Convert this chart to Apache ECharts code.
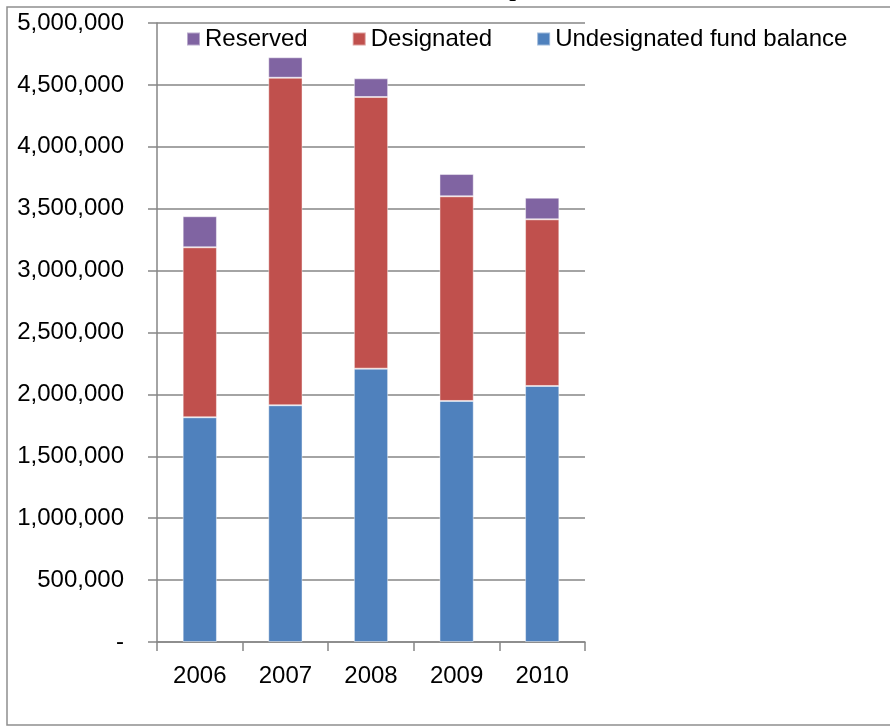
<!DOCTYPE html>
<html>
<head>
<meta charset="utf-8">
<script src="https://cdn.jsdelivr.net/npm/echarts@6/dist/echarts.min.js"></script>
<style>
  html, body { margin: 0; padding: 0; background: #ffffff; }
  #chart { width: 890px; height: 727px; }
</style>
</head>
<body>
<div id="chart"></div>
<script>
// Fund balance components by fiscal year
const years = ['2006', '2007', '2008', '2009', '2010'];
const undesignated = [1815000, 1912000, 2208000, 1947000, 2068000];
const designated = [1373000, 2646000, 2194000, 1653000, 1346000];
const reserved = [251000, 165000, 151000, 180000, 175000];

const yTicks = { min: 0, max: 5000000, interval: 500000 };
const titleText = 'Fund Balance Comparison';

const FONT = '"Liberation Sans", Arial, sans-serif';
const GRID_GRAY = '#868686';

function fmtNumber(v) {
  if (v === 0) return '-';
  return String(v).replace(/\B(?=(\d{3})+(?!\d))/g, ',');
}

const chart = echarts.init(document.getElementById('chart'), null, { renderer: 'canvas' });

const barStyle = (color) => ({
  color: color,
  borderColor: 'rgba(255,255,255,0.45)',
  borderWidth: 1
});

chart.setOption({
  backgroundColor: '#ffffff',
  animation: false,
  graphic: [
    {
      type: 'rect',
      shape: { x: 7, y: 7, width: 900, height: 718 },
      style: { fill: 'none', stroke: '#8e8e8e', lineWidth: 1.5 },
      silent: true,
      z: 0
    },
    {
      type: 'text',
      left: 312,
      top: -22,
      style: {
        text: titleText,
        font: 'bold 24px "Liberation Serif", "Times New Roman", serif',
        fill: '#000000'
      },
      silent: true
    }
  ],
  grid: { left: 157, right: 305, top: 23, bottom: 85, containLabel: false },
  legend: {
    data: ['Reserved', 'Designated', 'Undesignated fund balance'],
    left: 186,
    top: 27,
    padding: 0,
    itemWidth: 13,
    itemHeight: 13,
    itemGap: 44,
    icon: 'rect',
    textStyle: { fontFamily: FONT, fontSize: 24, color: '#000000' }
  },
  xAxis: {
    type: 'category',
    data: years,
    axisLine: { lineStyle: { color: GRID_GRAY, width: 1.5 } },
    axisTick: { show: true, length: 9, alignWithLabel: false, lineStyle: { color: GRID_GRAY, width: 1.5 } },
    axisLabel: { fontFamily: FONT, fontSize: 24, color: '#000000', margin: 22 },
    splitLine: { show: false }
  },
  yAxis: {
    type: 'value',
    min: yTicks.min,
    max: yTicks.max,
    interval: yTicks.interval,
    axisLine: { show: true, lineStyle: { color: GRID_GRAY, width: 1.5 } },
    axisTick: { show: true, length: 9, lineStyle: { color: GRID_GRAY, width: 1.5 } },
    axisLabel: {
      fontFamily: FONT, fontSize: 24, color: '#000000', margin: 33,
      formatter: fmtNumber
    },
    splitLine: { show: true, lineStyle: { color: GRID_GRAY, width: 1.5 } }
  },
  series: [
    {
      name: 'Undesignated fund balance',
      type: 'bar',
      stack: 'fund',
      barWidth: '40%',
      data: undesignated,
      itemStyle: barStyle('#4F81BD')
    },
    {
      name: 'Designated',
      type: 'bar',
      stack: 'fund',
      data: designated,
      itemStyle: barStyle('#C0504D')
    },
    {
      name: 'Reserved',
      type: 'bar',
      stack: 'fund',
      data: reserved,
      itemStyle: barStyle('#8064A2')
    }
  ]
});
</script>
</body>
</html>
